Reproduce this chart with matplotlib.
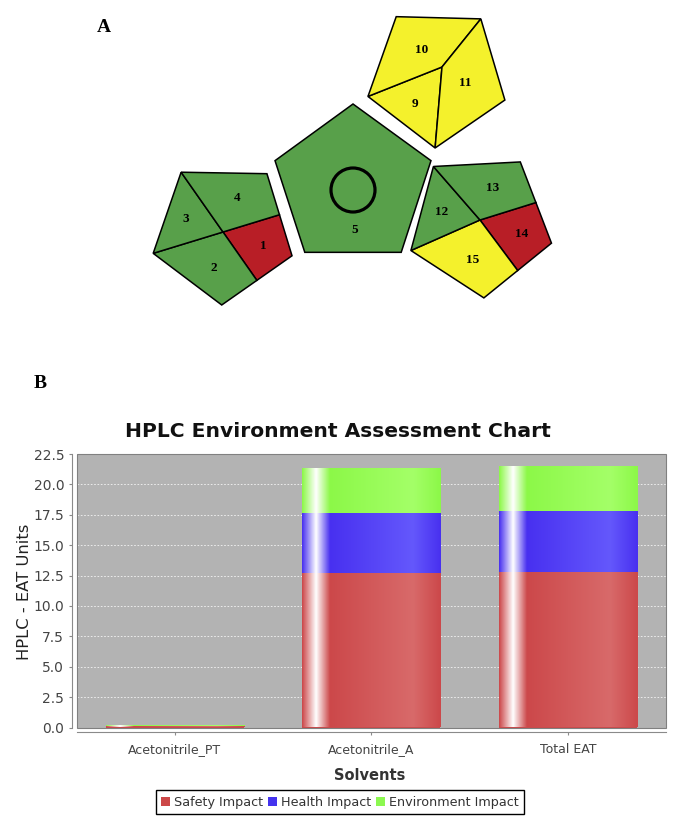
import numpy as np
import matplotlib
matplotlib.use("Agg")
import matplotlib.pyplot as plt
from matplotlib.patches import Polygon, Circle, Rectangle, Patch
from matplotlib.colors import to_rgb

# ---- panel B data (HPLC-EAT) ----
solvents = ["Acetonitrile_PT", "Acetonitrile_A", "Total EAT"]
safety = [0.12, 12.69, 12.81]
health = [0.04, 4.98, 5.02]
environment = [0.03, 3.65, 3.68]
series_names = ["Safety Impact", "Health Impact", "Environment Impact"]
y_ticks = [0.0, 2.5, 5.0, 7.5, 10.0, 12.5, 15.0, 17.5, 20.0, 22.5]

# ---- panel A data (GAPI ratings per section) ----
gapi_rating = {1: "red", 2: "green", 3: "green", 4: "green", 5: "green",
               9: "yellow", 10: "yellow", 11: "yellow",
               12: "green", 13: "green", 14: "red", 15: "yellow"}

GAPI_COLORS = {"green": "#58A04A", "red": "#B81E26", "yellow": "#F4F12C"}
BAR_C0 = ["#CC484A", "#4830F0", "#8CF848"]
BAR_C1 = ["#D86A6A", "#6458FC", "#A4FF68"]
LEGEND_COLORS = ["#CC4848", "#4433EE", "#8CF850"]

W, H = 679, 830
fig = plt.figure(figsize=(W / 100, H / 100), dpi=100)


def pentagon(cx, cy, r, rot):
    # vertices in pixel coords (y down), angle measured clockwise from "up"
    ang = np.radians(rot + 72 * np.arange(5))
    return np.column_stack([cx + r * np.sin(ang), cy - r * np.cos(ang)])


def mid(a, b):
    return (a + b) / 2


# ---------------- panel A ----------------
axa = fig.add_axes([0, 0, 1, 1])
axa.set_xlim(0, W)
axa.set_ylim(H, 0)
axa.axis("off")

sections = {}
# left pentagon (1-4)
v = pentagon(223, 232, 73, 181)
c = np.array([223, 232])
sections[1] = [c, mid(v[3], v[4]), v[4], mid(v[4], v[0])]
sections[2] = [c, mid(v[4], v[0]), v[0], v[1]]
sections[3] = [c, v[1], v[2]]
sections[4] = [c, v[2], v[3], mid(v[3], v[4])]
# right pentagon (12-15)
v = pentagon(480, 224, 74, 177)
c = np.array([480, 220])
sections[14] = [c, mid(v[3], v[4]), v[4], mid(v[4], v[0])]
sections[15] = [c, mid(v[4], v[0]), v[0], v[1]]
sections[12] = [c, v[1], v[2]]
sections[13] = [c, v[2], v[3], mid(v[3], v[4])]
# top pentagon (9-11)
v = pentagon(437, 76, 72, 181.5)
p = np.array([442, 67])
sections[9] = [p, v[1], v[0]]
sections[10] = [p, v[3], v[2], v[1]]
sections[11] = [p, v[3], v[4], v[0]]
# centre pentagon (5)
centre = pentagon(353, 186, 82, 0)
sections[5] = list(centre)

for num, pts in sections.items():
    pts = np.array(pts)
    axa.add_patch(Polygon(pts, closed=True, facecolor=GAPI_COLORS[gapi_rating[num]],
                          edgecolor="black", linewidth=1.1))
    if num == 5:
        lx, ly = 355, 230
    else:
        lx, ly = pts.mean(axis=0)
    axa.text(lx, ly, str(num), ha="center", va="center", fontsize=9.5,
             fontweight="bold", family="Liberation Serif")

axa.add_patch(Circle((353, 190), 22, fill=False, edgecolor="black", linewidth=2.3))

fig.text(104 / W, 1 - 27 / H, "A", ha="center", va="center", fontsize=14,
         fontweight="bold", family="Liberation Serif")
fig.text(40 / W, 1 - 383 / H, "B", ha="center", va="center", fontsize=14,
         fontweight="bold", family="Liberation Serif")

# ---------------- panel B ----------------
ax = fig.add_axes([76.7 / W, 1 - 727.5 / H, (666 - 76.7) / W, (727.5 - 454) / H])
ax.set_facecolor("#B3B3B3")

x = np.arange(len(solvents))
width = 0.704
bottoms = np.zeros(len(solvents))
for vals, c0, c1 in zip([safety, health, environment], BAR_C0, BAR_C1):
    bars = ax.bar(x, vals, width, bottom=bottoms, color=c0, linewidth=0, zorder=2)
    bottoms += np.array(vals)
    # gradient look of the original bar painter
    t = np.linspace(0, 1, 240)
    stops = [0, 0.1, 0.2, 0.8, 1.0]
    cols = np.array([to_rgb(c0), (1, 1, 1), to_rgb(c0), to_rgb(c1), to_rgb(c0)])
    grad = np.stack([np.interp(t, stops, cols[:, k]) for k in range(3)], axis=-1)[None]
    for b in bars:
        x0, y0, bw, bh = b.get_x(), b.get_y(), b.get_width(), b.get_height()
        ax.imshow(grad, extent=(x0, x0 + bw, y0, y0 + bh), aspect="auto",
                  interpolation="bilinear", zorder=3)

ax.set_xlim(-0.5, 2.5)
ax.set_ylim(0, 22.5)
ax.set_yticks(y_ticks)
ax.set_yticklabels([f"{t:.1f}" for t in y_ticks])
ax.set_xticks(x)
ax.set_xticklabels(solvents)
ax.yaxis.grid(True, color="white", linestyle=(0, (2, 2)), linewidth=0.6, alpha=0.85, zorder=1)
ax.set_axisbelow(True)

for s in ["top", "right"]:
    ax.spines[s].set_visible(False)
for s in ["left", "bottom"]:
    ax.spines[s].set_position(("outward", 3.5))
    ax.spines[s].set_color("#8A8A8A")
    ax.spines[s].set_linewidth(0.8)
ax.add_patch(Rectangle((0, 0), 1, 1, transform=ax.transAxes, fill=False,
                       edgecolor="#808080", linewidth=0.8, zorder=6, clip_on=False))
ax.tick_params(axis="both", length=2, color="#8A8A8A", labelcolor="#444444")
ax.tick_params(axis="y", labelsize=10)
ax.tick_params(axis="x", labelsize=9, pad=6)

fig.text(338 / W, 1 - 431 / H, "HPLC Environment Assessment Chart", ha="center",
         va="center", fontsize=14.6, fontweight="bold", color="#111111")
fig.text(25 / W, 1 - 592 / H, "HPLC - EAT Units", rotation=90, ha="center",
         va="center", fontsize=11.8, color="#222222")
fig.text(370 / W, 1 - 775 / H, "Solvents", ha="center", va="center",
         fontsize=10.5, fontweight="bold", color="#333333")

handles = [Patch(facecolor=c, edgecolor="none", label=n)
           for c, n in zip(LEGEND_COLORS, series_names)]
leg = fig.legend(handles=handles, loc="center", bbox_to_anchor=(340 / W, 1 - 802 / H),
                 ncol=3, frameon=True, fancybox=False, edgecolor="black", framealpha=1,
                 handlelength=0.7, handleheight=0.7, handletextpad=0.3,
                 columnspacing=0.4, borderpad=0.4, fontsize=9.2)
leg.get_frame().set_linewidth(1.0)
for t in leg.get_texts():
    t.set_color("#333333")

fig.savefig("out.png", dpi=100)
